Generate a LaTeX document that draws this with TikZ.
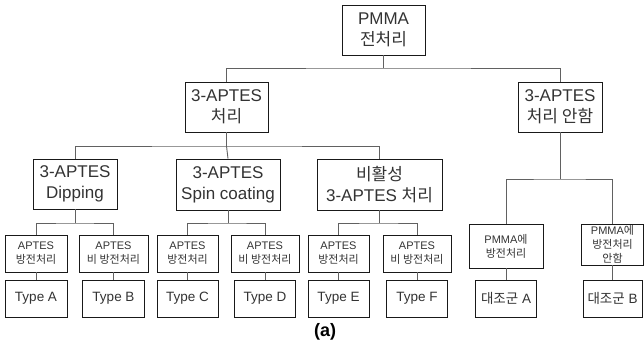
\documentclass[tikz,border=0pt]{standalone}
\usepackage{fontspec}
\setmainfont{Liberation Sans}
\newfontfamily\kr{Noto Sans CJK KR}
\begin{document}
\begin{tikzpicture}[x=1pt,y=1pt,
  box/.style={draw=black!90, line width=0.9pt, inner sep=0pt, align=center, text=black!80},
  big/.style={box, font=\fontsize{17}{21}\selectfont},
  small/.style={box, font=\fontsize{11}{14}\selectfont, minimum height=37pt},
  typ/.style={box, font=\fontsize{13.5}{16}\selectfont, minimum height=37pt},
  link/.style={draw=black!62, line width=0.9pt}]
\useasboundingbox (0,0) rectangle (644,-346);
% level 0-2
\node[big, minimum width=83pt, minimum height=50pt] (pmma) at (383.5,-30) {PMMA\\{\kr 전처리}};
\node[big, minimum width=83pt, minimum height=50pt] (ap) at (226.5,-107) {3-APTES\\{\kr 처리}};
\node[big, minimum width=84pt, minimum height=50pt] (nap) at (560,-107) {3-APTES\\{\kr 처리 안함}};
\node[big, minimum width=84pt, minimum height=50pt] (dip) at (75,-184) {3-APTES\\Dipping};
\node[big, minimum width=104pt, minimum height=51pt] (spin) at (228,-184.5) {3-APTES\\Spin coating};
\node[big, minimum width=125pt, minimum height=51pt] (inact) at (379.5,-184.5) {{\kr 비활성}\\3-APTES {\kr 처리}};
% level 3
\node[small, minimum width=62pt] (a1) at (36,-253.5) {APTES\\{\kr 방전처리}};
\node[small, minimum width=69pt] (b1) at (113.5,-253.5) {APTES\\{\kr 비 방전처리}};
\node[small, minimum width=61pt] (c1) at (187.5,-253.5) {APTES\\{\kr 방전처리}};
\node[small, minimum width=68pt] (d1) at (265,-253.5) {APTES\\{\kr 비 방전처리}};
\node[small, minimum width=61pt] (e1) at (338.5,-253.5) {APTES\\{\kr 방전처리}};
\node[small, minimum width=68pt] (f1) at (417,-253.5) {APTES\\{\kr 비 방전처리}};
\node[small, minimum width=74pt, minimum height=44pt] (pa) at (506,-246) {PMMA{\kr 에}\\{\kr 방전처리}};
\node[small, minimum width=62pt, minimum height=41pt] (pb) at (612.5,-244.5) {PMMA{\kr 에}\\{\kr 방전처리}\\{\kr 안함}};
% level 4
\node[typ, minimum width=62pt] (tA) at (36,-298.5) {Type A};
\node[typ, minimum width=62pt] (tB) at (113.5,-298.5) {Type B};
\node[typ, minimum width=61pt] (tC) at (187.5,-298.5) {Type C};
\node[typ, minimum width=61pt] (tD) at (265,-298.5) {Type D};
\node[typ, minimum width=61pt] (tE) at (338.5,-298.5) {Type E};
\node[typ, minimum width=61pt] (tF) at (417,-298.5) {Type F};
\node[typ, minimum width=61pt] (cA) at (506,-298.5) {{\kr 대조군} A};
\node[typ, minimum width=59pt] (cB) at (612.5,-298.5) {{\kr 대조군} B};
% junctions
\coordinate (j1) at (383.5,-68);
\coordinate (j2) at (226.5,-146);
\coordinate (j3a) at (75,-223);
\coordinate (j3b) at (228,-223);
\coordinate (j3c) at (379.5,-223);
\coordinate (j4) at (560,-179);
% connectors
\draw[link] (pmma.south) -- (j1);
\draw[link] (ap.north) |- (j1) -| (nap.north);
\draw[link] (ap.south) -- (j2);
\draw[link] (dip.north) |- (j2) -| (inact.north);
\draw[link] (j2) -- (spin.north);
\draw[link] (dip.south) -- (j3a);
\draw[link] (a1.north) |- (j3a) -| (b1.north);
\draw[link] (spin.south) -- (j3b);
\draw[link] (c1.north) |- (j3b) -| (d1.north);
\draw[link] (inact.south) -- (j3c);
\draw[link] (e1.north) |- (j3c) -| (f1.north);
\draw[link] (nap.south) -- (j4);
\draw[link] (pa.north) |- (j4) -| (pb.north);
\draw[link] (a1.south) -- (tA.north);
\draw[link] (b1.south) -- (tB.north);
\draw[link] (c1.south) -- (tC.north);
\draw[link] (d1.south) -- (tD.north);
\draw[link] (e1.south) -- (tE.north);
\draw[link] (f1.south) -- (tF.north);
\draw[link] (pa.south) -- (cA.north);
\draw[link] (pb.south) -- (cB.north);
% caption
\node[font=\fontsize{18}{18}\selectfont\bfseries, text=black] (lab) at (325,-332) {(a)};
\end{tikzpicture}
\end{document}
